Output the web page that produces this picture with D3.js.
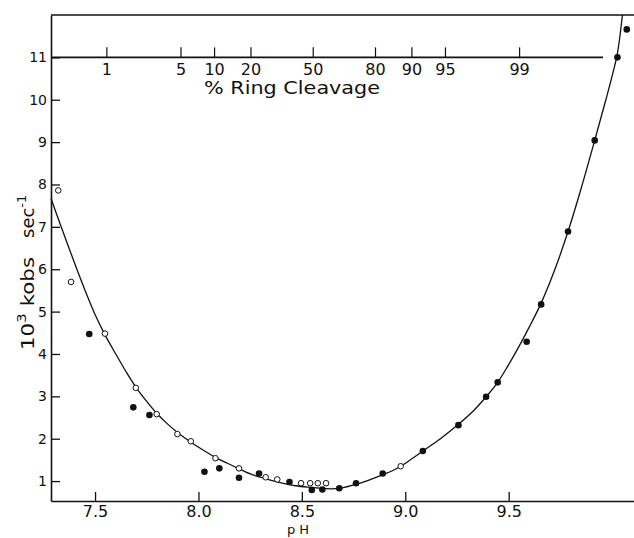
<!DOCTYPE html>
<html>
<head>
<meta charset="utf-8">
<script src="https://cdn.jsdelivr.net/npm/d3@7"></script>
<style>
  body { margin: 0; background: #fff; }
  svg { display: block; }
  text { font-family: "DejaVu Sans", sans-serif; fill: #111; }
</style>
</head>
<body>
<svg width="634" height="538"></svg>
<script>
// open circles (pH, 10^3 kobs)
const openPH  = [7.322, 7.384, 7.548, 7.697, 7.798, 7.898, 7.963, 8.082, 8.196, 8.325, 8.381, 8.496, 8.540, 8.577, 8.617, 8.978];
const openK   = [7.86, 5.70, 4.48, 3.20, 2.58, 2.11, 1.94, 1.54, 1.30, 1.09, 1.04, 0.95, 0.95, 0.95, 0.95, 1.35];

// filled circles
const fillPH  = [7.472, 7.685, 7.763, 8.029, 8.101, 8.196, 8.293, 8.440, 8.548, 8.599, 8.681, 8.762, 8.891, 9.085, 9.257, 9.391, 9.447, 9.587, 9.657, 9.787, 9.916, 10.026, 10.071];
const fillK   = [4.47, 2.74, 2.56, 1.22, 1.30, 1.08, 1.18, 0.98, 0.79, 0.80, 0.83, 0.95, 1.18, 1.71, 2.32, 2.99, 3.33, 4.29, 5.17, 6.89, 9.04, 11.0, 11.66];

// drawn curve
const curvePH = [7.287, 7.334, 7.38, 7.42, 7.46, 7.50, 7.548, 7.60, 7.65, 7.697, 7.75, 7.798, 7.85, 7.90, 7.96, 8.02, 8.082, 8.14, 8.196, 8.26, 8.33, 8.40, 8.47, 8.55, 8.62, 8.685, 8.75, 8.80, 8.891, 8.94, 8.978, 9.03, 9.085, 9.17, 9.257, 9.33, 9.391, 9.447, 9.50, 9.55, 9.60, 9.657, 9.72, 9.787, 9.85, 9.916, 9.97, 10.005, 10.026, 10.05];
const curveK  = [7.67, 7.03, 6.42, 5.90, 5.40, 4.93, 4.45, 4.00, 3.58, 3.22, 2.88, 2.60, 2.35, 2.14, 1.93, 1.74, 1.56, 1.42, 1.29, 1.15, 1.05, 0.96, 0.89, 0.85, 0.82, 0.83, 0.91, 0.98, 1.15, 1.25, 1.35, 1.52, 1.71, 2.00, 2.34, 2.66, 2.99, 3.33, 3.75, 4.18, 4.64, 5.20, 5.95, 6.89, 7.90, 9.04, 10.0, 10.65, 11.1, 12.0];

const xTicks = [7.5, 8.0, 8.5, 9.0, 9.5];
const yTicks = [1, 2, 3, 4, 5, 6, 7, 8, 9, 10, 11];

// % ring cleavage scale drawn along the 11 gridline
const ringTicks = [1, 5, 10, 20, 50, 80, 90, 95, 99];
const ringPKa = 8.555;

const svg = d3.select("svg");

const x = d3.scaleLinear().domain([7.287, 10.106]).range([51, 634]);
const y = d3.scaleLinear().domain([0.53, 12.0]).range([501, 15]);

// bottom axis, ticks pointing inwards
const xAxis = svg.append("g")
    .attr("transform", "translate(0," + y.range()[0] + ")")
    .call(d3.axisBottom(x).tickValues(xTicks).tickSize(-9).tickSizeOuter(0).tickPadding(5)
        .tickFormat(d3.format(".1f")));

const yAxis = svg.append("g")
    .attr("transform", "translate(" + x.range()[0] + ",0)")
    .call(d3.axisLeft(y).tickValues(yTicks).tickSize(-9).tickSizeOuter(0).tickPadding(4)
        .tickFormat(d3.format("d")));

xAxis.selectAll("text").style("font-size", "16px");
yAxis.selectAll("text").style("font-size", "14px");
svg.selectAll(".domain").attr("stroke", "#111").attr("stroke-width", 1.6);
svg.selectAll(".tick line").attr("stroke", "#111").attr("stroke-width", 1.3);

// top frame
svg.append("line")
    .attr("x1", x.range()[0]).attr("x2", x.range()[1])
    .attr("y1", y.range()[1]).attr("y2", y.range()[1])
    .attr("stroke", "#111").attr("stroke-width", 1.6);

// ring cleavage axis
const ringY = y(11);
const ringX = p => x(ringPKa + 0.5 * Math.log10(p / (100 - p)));
const ring = svg.append("g");
ring.append("line")
    .attr("x1", x.range()[0]).attr("x2", 603)
    .attr("y1", ringY).attr("y2", ringY)
    .attr("stroke", "#111").attr("stroke-width", 1.6);
ring.selectAll("line.rt")
    .data(ringTicks)
    .enter()
    .append("line")
    .attr("class", "rt")
    .attr("x1", ringX).attr("x2", ringX)
    .attr("y1", ringY).attr("y2", ringY - 10)
    .attr("stroke", "#111").attr("stroke-width", 1.2);
ring.selectAll("text")
    .data(ringTicks)
    .enter()
    .append("text")
    .attr("x", ringX)
    .attr("y", ringY + 18)
    .attr("text-anchor", "middle")
    .style("font-size", "16px")
    .text(d => d);

svg.append("text")
    .attr("x", 204).attr("y", 94)
    .attr("textLength", 176).attr("lengthAdjust", "spacingAndGlyphs")
    .style("font-size", "17px")
    .text("% Ring  Cleavage");

// axis titles
svg.append("text")
    .attr("x", 298).attr("y", 534)
    .attr("text-anchor", "middle")
    .style("font-size", "13px")
    .text("p H");

const yl1 = svg.append("text")
    .attr("transform", "translate(34,350) rotate(-90)")
    .attr("textLength", 93).attr("lengthAdjust", "spacingAndGlyphs")
    .style("font-size", "18px");
yl1.append("tspan").text("10");
yl1.append("tspan").attr("dy", -8).style("font-size", "13px").text("3");
yl1.append("tspan").attr("dy", 8).text(" kobs");

const yl2 = svg.append("text")
    .attr("transform", "translate(34,238) rotate(-90)")
    .style("font-size", "18px");
yl2.append("tspan").text("sec");
yl2.append("tspan").attr("dy", -8).style("font-size", "13px").text("-1");

// curve
const curveData = curvePH.map((p, i) => ({ph: p, k: curveK[i]}));
const line = d3.line()
    .x(d => x(d.ph))
    .y(d => y(d.k))
    .curve(d3.curveCatmullRom);

svg.append("path")
    .datum(curveData)
    .attr("d", line)
    .attr("fill", "none")
    .attr("stroke", "#111")
    .attr("stroke-width", 1.3);

// points
const fillData = fillPH.map((p, i) => ({ph: p, k: fillK[i]}));
const openData = openPH.map((p, i) => ({ph: p, k: openK[i]}));

svg.append("g")
    .selectAll("circle")
    .data(fillData)
    .enter()
    .append("circle")
    .attr("cx", d => x(d.ph))
    .attr("cy", d => y(d.k))
    .attr("r", 3.3)
    .attr("fill", "#111");

svg.append("g")
    .selectAll("circle")
    .data(openData)
    .enter()
    .append("circle")
    .attr("cx", d => x(d.ph))
    .attr("cy", d => y(d.k))
    .attr("r", 2.8)
    .attr("fill", "#fff")
    .attr("stroke", "#111")
    .attr("stroke-width", 1);
</script>
</body>
</html>
